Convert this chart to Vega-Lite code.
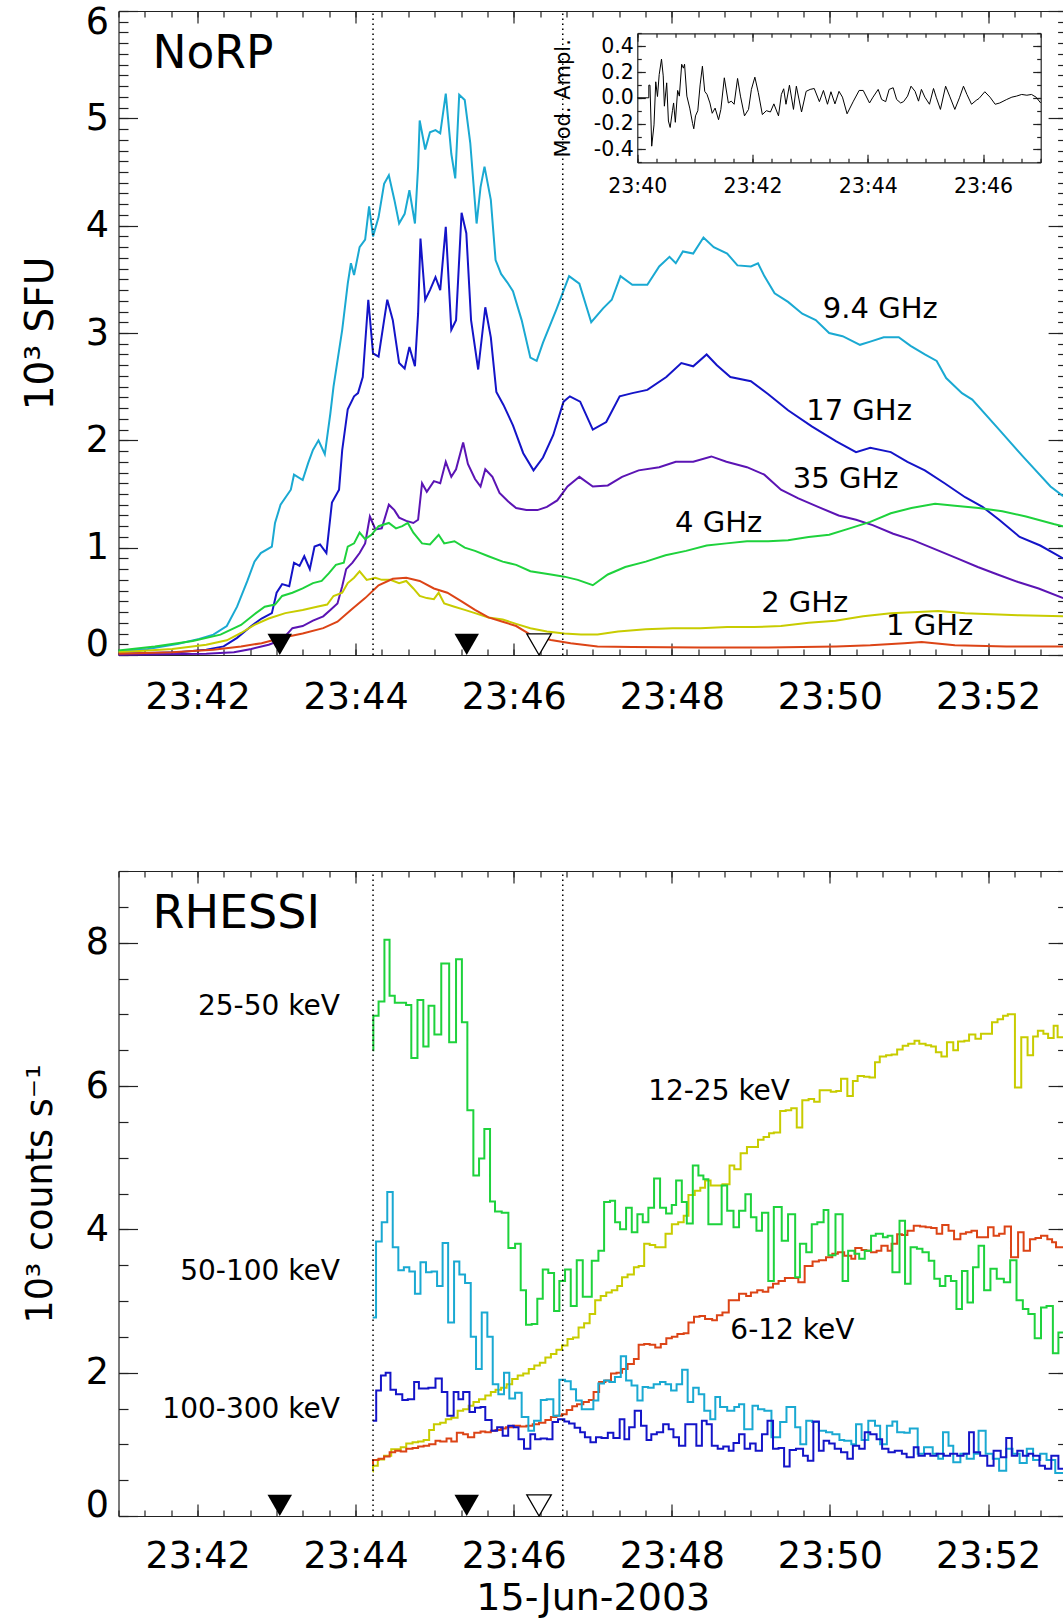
{
"$schema":"https://vega.github.io/schema/vega-lite/v6.json",
"autosize":{"type":"none"},
"width":944.5,"height":1505,
"padding":{"left":118.5,"top":11,"right":0,"bottom":103},
"background":"white",
"config":{"view":{"stroke":null},"axis":{"grid":false,"labelFont":"DejaVu Sans","titleFont":"DejaVu Sans","labelColor":"#000","titleColor":"#000","titleFontWeight":"normal","domainColor":"#222","tickColor":"#222","domainWidth":1.2,"tickWidth":1.2,"labelOverlap":false,"labelBound":false,"labelFlush":false},"text":{"font":"DejaVu Sans","color":"#000"}},
"datasets":{
"f94":[{"t":41.0,"v":0.034},{"t":41.37,"v":0.056},{"t":41.76,"v":0.105},{"t":42.02,"v":0.15},{"t":42.2,"v":0.19},{"t":42.37,"v":0.27},{"t":42.5,"v":0.45},{"t":42.63,"v":0.69},{"t":42.72,"v":0.87},{"t":42.8,"v":0.95},{"t":42.94,"v":1.01},{"t":42.98,"v":1.23},{"t":43.05,"v":1.4},{"t":43.18,"v":1.54},{"t":43.22,"v":1.68},{"t":43.33,"v":1.63},{"t":43.4,"v":1.79},{"t":43.46,"v":1.91},{"t":43.53,"v":2.0},{"t":43.61,"v":1.87},{"t":43.68,"v":2.25},{"t":43.72,"v":2.5},{"t":43.83,"v":3.03},{"t":43.9,"v":3.46},{"t":43.94,"v":3.65},{"t":43.98,"v":3.54},{"t":44.05,"v":3.8},{"t":44.12,"v":3.87},{"t":44.17,"v":4.18},{"t":44.22,"v":3.9},{"t":44.29,"v":4.08},{"t":44.36,"v":4.39},{"t":44.42,"v":4.47},{"t":44.49,"v":4.24},{"t":44.55,"v":4.02},{"t":44.62,"v":4.11},{"t":44.68,"v":4.33},{"t":44.75,"v":4.02},{"t":44.79,"v":4.55},{"t":44.81,"v":4.98},{"t":44.88,"v":4.71},{"t":44.94,"v":4.87},{"t":45.01,"v":4.89},{"t":45.07,"v":4.86},{"t":45.14,"v":5.23},{"t":45.21,"v":4.67},{"t":45.26,"v":4.44},{"t":45.31,"v":5.22},{"t":45.38,"v":5.17},{"t":45.45,"v":4.77},{"t":45.53,"v":4.02},{"t":45.58,"v":4.36},{"t":45.63,"v":4.55},{"t":45.71,"v":4.24},{"t":45.77,"v":3.68},{"t":45.84,"v":3.55},{"t":45.92,"v":3.47},{"t":45.99,"v":3.39},{"t":46.1,"v":3.12},{"t":46.21,"v":2.77},{"t":46.29,"v":2.74},{"t":46.37,"v":2.91},{"t":46.54,"v":3.22},{"t":46.7,"v":3.53},{"t":46.83,"v":3.46},{"t":46.98,"v":3.1},{"t":47.13,"v":3.23},{"t":47.24,"v":3.31},{"t":47.35,"v":3.53},{"t":47.5,"v":3.45},{"t":47.69,"v":3.45},{"t":47.84,"v":3.62},{"t":47.97,"v":3.71},{"t":48.05,"v":3.65},{"t":48.14,"v":3.76},{"t":48.27,"v":3.74},{"t":48.4,"v":3.89},{"t":48.53,"v":3.8},{"t":48.7,"v":3.74},{"t":48.83,"v":3.63},{"t":49.0,"v":3.62},{"t":49.09,"v":3.65},{"t":49.17,"v":3.53},{"t":49.3,"v":3.37},{"t":49.47,"v":3.29},{"t":49.65,"v":3.18},{"t":49.82,"v":3.12},{"t":49.99,"v":3.0},{"t":50.16,"v":2.97},{"t":50.38,"v":2.89},{"t":50.51,"v":2.92},{"t":50.68,"v":2.96},{"t":50.87,"v":2.96},{"t":51.02,"v":2.88},{"t":51.2,"v":2.8},{"t":51.35,"v":2.74},{"t":51.47,"v":2.58},{"t":51.67,"v":2.44},{"t":51.8,"v":2.38},{"t":52.14,"v":2.1},{"t":52.44,"v":1.85},{"t":52.79,"v":1.57},{"t":52.95,"v":1.48}],
"f17":[{"t":41.0,"v":0.012},{"t":41.76,"v":0.025},{"t":42.11,"v":0.05},{"t":42.33,"v":0.08},{"t":42.5,"v":0.16},{"t":42.68,"v":0.27},{"t":42.81,"v":0.34},{"t":42.94,"v":0.39},{"t":43.0,"v":0.58},{"t":43.07,"v":0.66},{"t":43.16,"v":0.64},{"t":43.22,"v":0.86},{"t":43.29,"v":0.83},{"t":43.35,"v":0.92},{"t":43.42,"v":0.8},{"t":43.48,"v":1.01},{"t":43.55,"v":1.03},{"t":43.63,"v":0.95},{"t":43.7,"v":1.42},{"t":43.79,"v":1.54},{"t":43.83,"v":1.91},{"t":43.9,"v":2.29},{"t":43.98,"v":2.41},{"t":44.03,"v":2.44},{"t":44.09,"v":2.59},{"t":44.16,"v":3.31},{"t":44.22,"v":2.81},{"t":44.29,"v":2.78},{"t":44.36,"v":3.12},{"t":44.4,"v":3.31},{"t":44.47,"v":3.12},{"t":44.55,"v":2.72},{"t":44.62,"v":2.67},{"t":44.68,"v":2.87},{"t":44.75,"v":2.69},{"t":44.79,"v":3.18},{"t":44.82,"v":3.88},{"t":44.88,"v":3.31},{"t":44.94,"v":3.4},{"t":45.01,"v":3.52},{"t":45.07,"v":3.4},{"t":45.14,"v":3.99},{"t":45.21,"v":3.03},{"t":45.27,"v":3.12},{"t":45.34,"v":4.12},{"t":45.4,"v":3.93},{"t":45.46,"v":3.12},{"t":45.55,"v":2.66},{"t":45.64,"v":3.24},{"t":45.71,"v":2.96},{"t":45.78,"v":2.45},{"t":45.87,"v":2.33},{"t":45.99,"v":2.14},{"t":46.12,"v":1.88},{"t":46.25,"v":1.72},{"t":46.37,"v":1.84},{"t":46.5,"v":2.05},{"t":46.63,"v":2.36},{"t":46.71,"v":2.41},{"t":46.84,"v":2.36},{"t":47.0,"v":2.1},{"t":47.17,"v":2.17},{"t":47.34,"v":2.41},{"t":47.5,"v":2.44},{"t":47.69,"v":2.47},{"t":47.93,"v":2.59},{"t":48.12,"v":2.72},{"t":48.27,"v":2.69},{"t":48.44,"v":2.8},{"t":48.57,"v":2.7},{"t":48.74,"v":2.59},{"t":49.0,"v":2.55},{"t":49.22,"v":2.43},{"t":49.47,"v":2.28},{"t":49.77,"v":2.13},{"t":50.08,"v":1.99},{"t":50.33,"v":1.89},{"t":50.51,"v":1.93},{"t":50.77,"v":1.89},{"t":50.98,"v":1.8},{"t":51.2,"v":1.72},{"t":51.45,"v":1.6},{"t":51.71,"v":1.47},{"t":51.93,"v":1.38},{"t":52.14,"v":1.26},{"t":52.4,"v":1.1},{"t":52.66,"v":1.02},{"t":52.95,"v":0.9}],
"f35":[{"t":41.0,"v":0.003},{"t":42.11,"v":0.012},{"t":42.46,"v":0.025},{"t":42.68,"v":0.056},{"t":42.9,"v":0.096},{"t":43.07,"v":0.143},{"t":43.2,"v":0.25},{"t":43.33,"v":0.27},{"t":43.46,"v":0.32},{"t":43.59,"v":0.36},{"t":43.68,"v":0.42},{"t":43.77,"v":0.48},{"t":43.83,"v":0.64},{"t":43.88,"v":0.8},{"t":43.96,"v":0.86},{"t":44.05,"v":0.95},{"t":44.12,"v":1.04},{"t":44.18,"v":1.29},{"t":44.25,"v":1.17},{"t":44.33,"v":1.18},{"t":44.42,"v":1.4},{"t":44.49,"v":1.35},{"t":44.55,"v":1.28},{"t":44.64,"v":1.25},{"t":44.73,"v":1.23},{"t":44.79,"v":1.26},{"t":44.84,"v":1.6},{"t":44.9,"v":1.52},{"t":44.99,"v":1.62},{"t":45.07,"v":1.6},{"t":45.14,"v":1.8},{"t":45.21,"v":1.66},{"t":45.27,"v":1.73},{"t":45.36,"v":1.98},{"t":45.42,"v":1.78},{"t":45.51,"v":1.64},{"t":45.58,"v":1.57},{"t":45.64,"v":1.73},{"t":45.73,"v":1.66},{"t":45.82,"v":1.51},{"t":45.93,"v":1.43},{"t":46.03,"v":1.37},{"t":46.16,"v":1.35},{"t":46.3,"v":1.35},{"t":46.42,"v":1.38},{"t":46.55,"v":1.44},{"t":46.68,"v":1.57},{"t":46.83,"v":1.66},{"t":47.0,"v":1.57},{"t":47.19,"v":1.58},{"t":47.37,"v":1.66},{"t":47.58,"v":1.72},{"t":47.84,"v":1.75},{"t":48.05,"v":1.8},{"t":48.27,"v":1.8},{"t":48.5,"v":1.85},{"t":48.69,"v":1.8},{"t":48.95,"v":1.75},{"t":49.17,"v":1.68},{"t":49.38,"v":1.54},{"t":49.6,"v":1.46},{"t":49.85,"v":1.38},{"t":50.11,"v":1.3},{"t":50.33,"v":1.26},{"t":50.54,"v":1.21},{"t":50.8,"v":1.13},{"t":51.05,"v":1.07},{"t":51.35,"v":0.98},{"t":51.61,"v":0.9},{"t":51.87,"v":0.82},{"t":52.12,"v":0.75},{"t":52.38,"v":0.68},{"t":52.64,"v":0.62},{"t":52.95,"v":0.53}],
"f4":[{"t":41.0,"v":0.043},{"t":41.46,"v":0.08},{"t":41.94,"v":0.13},{"t":42.29,"v":0.19},{"t":42.55,"v":0.28},{"t":42.72,"v":0.38},{"t":42.85,"v":0.45},{"t":42.98,"v":0.47},{"t":43.07,"v":0.55},{"t":43.2,"v":0.58},{"t":43.33,"v":0.62},{"t":43.46,"v":0.67},{"t":43.57,"v":0.69},{"t":43.66,"v":0.76},{"t":43.75,"v":0.84},{"t":43.85,"v":0.86},{"t":43.9,"v":1.01},{"t":43.98,"v":1.04},{"t":44.05,"v":1.14},{"t":44.12,"v":1.08},{"t":44.2,"v":1.12},{"t":44.29,"v":1.2},{"t":44.42,"v":1.23},{"t":44.51,"v":1.18},{"t":44.59,"v":1.2},{"t":44.66,"v":1.23},{"t":44.73,"v":1.14},{"t":44.84,"v":1.04},{"t":44.94,"v":1.03},{"t":45.05,"v":1.12},{"t":45.12,"v":1.04},{"t":45.25,"v":1.06},{"t":45.38,"v":1.0},{"t":45.51,"v":0.97},{"t":45.68,"v":0.92},{"t":45.86,"v":0.87},{"t":46.03,"v":0.84},{"t":46.21,"v":0.78},{"t":46.47,"v":0.75},{"t":46.64,"v":0.73},{"t":46.81,"v":0.7},{"t":47.0,"v":0.65},{"t":47.19,"v":0.75},{"t":47.41,"v":0.82},{"t":47.67,"v":0.87},{"t":47.92,"v":0.93},{"t":48.18,"v":0.97},{"t":48.44,"v":1.02},{"t":48.69,"v":1.04},{"t":48.95,"v":1.06},{"t":49.22,"v":1.06},{"t":49.47,"v":1.07},{"t":49.73,"v":1.1},{"t":49.99,"v":1.12},{"t":50.25,"v":1.18},{"t":50.51,"v":1.24},{"t":50.77,"v":1.32},{"t":51.03,"v":1.37},{"t":51.33,"v":1.41},{"t":51.58,"v":1.39},{"t":51.88,"v":1.37},{"t":52.18,"v":1.34},{"t":52.48,"v":1.29},{"t":52.83,"v":1.22},{"t":52.95,"v":1.2}],
"f2":[{"t":41.0,"v":0.025},{"t":41.68,"v":0.056},{"t":42.11,"v":0.096},{"t":42.37,"v":0.137},{"t":42.55,"v":0.205},{"t":42.72,"v":0.28},{"t":42.9,"v":0.34},{"t":43.11,"v":0.39},{"t":43.33,"v":0.42},{"t":43.51,"v":0.45},{"t":43.64,"v":0.47},{"t":43.72,"v":0.55},{"t":43.83,"v":0.58},{"t":43.9,"v":0.67},{"t":43.98,"v":0.72},{"t":44.05,"v":0.78},{"t":44.14,"v":0.7},{"t":44.25,"v":0.72},{"t":44.33,"v":0.7},{"t":44.44,"v":0.7},{"t":44.55,"v":0.67},{"t":44.64,"v":0.69},{"t":44.73,"v":0.62},{"t":44.81,"v":0.55},{"t":44.9,"v":0.53},{"t":44.99,"v":0.52},{"t":45.05,"v":0.58},{"t":45.12,"v":0.48},{"t":45.25,"v":0.45},{"t":45.38,"v":0.42},{"t":45.51,"v":0.39},{"t":45.68,"v":0.35},{"t":45.86,"v":0.33},{"t":46.03,"v":0.29},{"t":46.21,"v":0.25},{"t":46.42,"v":0.22},{"t":46.64,"v":0.2},{"t":46.85,"v":0.19},{"t":47.06,"v":0.19},{"t":47.32,"v":0.22},{"t":47.67,"v":0.24},{"t":48.01,"v":0.25},{"t":48.36,"v":0.25},{"t":48.7,"v":0.26},{"t":49.04,"v":0.26},{"t":49.38,"v":0.27},{"t":49.73,"v":0.3},{"t":50.07,"v":0.32},{"t":50.42,"v":0.36},{"t":50.77,"v":0.39},{"t":51.11,"v":0.4},{"t":51.37,"v":0.41},{"t":51.71,"v":0.39},{"t":52.05,"v":0.38},{"t":52.4,"v":0.37},{"t":52.95,"v":0.36}],
"f1":[{"t":41.0,"v":0.012},{"t":41.68,"v":0.025},{"t":42.2,"v":0.05},{"t":42.55,"v":0.08},{"t":42.81,"v":0.11},{"t":43.07,"v":0.16},{"t":43.33,"v":0.2},{"t":43.59,"v":0.25},{"t":43.77,"v":0.31},{"t":43.94,"v":0.42},{"t":44.12,"v":0.53},{"t":44.29,"v":0.65},{"t":44.47,"v":0.71},{"t":44.64,"v":0.72},{"t":44.81,"v":0.69},{"t":44.99,"v":0.62},{"t":45.16,"v":0.58},{"t":45.34,"v":0.5},{"t":45.51,"v":0.42},{"t":45.68,"v":0.35},{"t":45.86,"v":0.31},{"t":46.03,"v":0.27},{"t":46.21,"v":0.19},{"t":46.47,"v":0.14},{"t":46.72,"v":0.11},{"t":47.06,"v":0.08},{"t":47.5,"v":0.075},{"t":48.36,"v":0.07},{"t":49.22,"v":0.07},{"t":50.08,"v":0.08},{"t":50.51,"v":0.09},{"t":50.94,"v":0.11},{"t":51.16,"v":0.12},{"t":51.58,"v":0.09},{"t":52.23,"v":0.08},{"t":52.95,"v":0.08}],
"h25":[{"t":44.216,"v":6.5},{"t":44.224,"v":6.98},{"t":44.29,"v":7.18},{"t":44.364,"v":8.04},{"t":44.429,"v":7.26},{"t":44.495,"v":7.16},{"t":44.573,"v":7.16},{"t":44.638,"v":7.13},{"t":44.704,"v":6.39},{"t":44.782,"v":7.2},{"t":44.856,"v":6.55},{"t":44.922,"v":7.12},{"t":44.996,"v":6.72},{"t":45.083,"v":7.71},{"t":45.183,"v":6.61},{"t":45.27,"v":7.77},{"t":45.344,"v":6.89},{"t":45.413,"v":5.66},{"t":45.489,"v":4.75},{"t":45.561,"v":4.99},{"t":45.628,"v":5.4},{"t":45.7,"v":4.39},{"t":45.763,"v":4.25},{"t":45.848,"v":4.23},{"t":45.932,"v":3.74},{"t":46.017,"v":3.8},{"t":46.088,"v":3.15},{"t":46.155,"v":2.67},{"t":46.227,"v":2.68},{"t":46.298,"v":3.03},{"t":46.367,"v":3.44},{"t":46.437,"v":3.39},{"t":46.51,"v":2.86},{"t":46.577,"v":3.28},{"t":46.649,"v":3.44},{"t":46.721,"v":2.93},{"t":46.797,"v":3.57},{"t":46.873,"v":3.06},{"t":46.987,"v":3.56},{"t":47.071,"v":3.7},{"t":47.143,"v":4.38},{"t":47.218,"v":4.4},{"t":47.282,"v":4.1},{"t":47.345,"v":4.0},{"t":47.421,"v":4.3},{"t":47.493,"v":3.96},{"t":47.564,"v":4.21},{"t":47.632,"v":4.1},{"t":47.703,"v":4.3},{"t":47.775,"v":4.71},{"t":47.851,"v":4.3},{"t":47.927,"v":4.22},{"t":47.999,"v":4.34},{"t":48.054,"v":4.68},{"t":48.126,"v":4.38},{"t":48.189,"v":4.08},{"t":48.265,"v":4.89},{"t":48.336,"v":4.75},{"t":48.399,"v":4.7},{"t":48.462,"v":4.07},{"t":48.63,"v":4.61},{"t":48.7,"v":4.26},{"t":48.78,"v":4.03},{"t":48.85,"v":4.26},{"t":48.93,"v":4.49},{"t":49.0,"v":4.17},{"t":49.07,"v":3.98},{"t":49.14,"v":4.23},{"t":49.22,"v":3.28},{"t":49.29,"v":4.31},{"t":49.39,"v":3.84},{"t":49.47,"v":4.21},{"t":49.56,"v":3.33},{"t":49.62,"v":3.8},{"t":49.7,"v":3.68},{"t":49.77,"v":4.07},{"t":49.84,"v":4.1},{"t":49.92,"v":4.27},{"t":49.98,"v":3.64},{"t":50.07,"v":4.21},{"t":50.16,"v":3.28},{"t":50.23,"v":3.7},{"t":50.31,"v":3.66},{"t":50.37,"v":3.59},{"t":50.44,"v":3.7},{"t":50.52,"v":3.91},{"t":50.58,"v":3.94},{"t":50.67,"v":3.89},{"t":50.73,"v":3.91},{"t":50.79,"v":3.4},{"t":50.88,"v":4.12},{"t":50.95,"v":3.24},{"t":51.02,"v":3.75},{"t":51.1,"v":3.73},{"t":51.17,"v":3.68},{"t":51.25,"v":3.56},{"t":51.32,"v":3.31},{"t":51.39,"v":3.21},{"t":51.46,"v":3.35},{"t":51.53,"v":3.28},{"t":51.6,"v":2.89},{"t":51.67,"v":3.42},{"t":51.74,"v":2.98},{"t":51.81,"v":3.47},{"t":51.88,"v":3.77},{"t":51.95,"v":3.15},{"t":52.03,"v":3.45},{"t":52.11,"v":3.31},{"t":52.2,"v":3.26},{"t":52.28,"v":3.57},{"t":52.36,"v":3.01},{"t":52.44,"v":2.89},{"t":52.51,"v":2.82},{"t":52.59,"v":2.48},{"t":52.67,"v":2.91},{"t":52.74,"v":2.93},{"t":52.82,"v":2.27},{"t":52.89,"v":2.56},{"t":52.96,"v":2.56}],
"h50":[{"t":44.216,"v":2.77},{"t":44.258,"v":3.83},{"t":44.33,"v":4.1},{"t":44.4,"v":4.52},{"t":44.469,"v":3.75},{"t":44.54,"v":3.43},{"t":44.61,"v":3.47},{"t":44.679,"v":3.41},{"t":44.75,"v":3.1},{"t":44.82,"v":3.54},{"t":44.89,"v":3.4},{"t":44.96,"v":3.41},{"t":45.03,"v":3.21},{"t":45.1,"v":3.81},{"t":45.17,"v":2.7},{"t":45.245,"v":3.55},{"t":45.312,"v":3.37},{"t":45.384,"v":3.25},{"t":45.456,"v":2.5},{"t":45.523,"v":2.05},{"t":45.595,"v":2.84},{"t":45.666,"v":2.5},{"t":45.734,"v":1.84},{"t":45.805,"v":1.7},{"t":45.877,"v":2.0},{"t":45.944,"v":1.64},{"t":46.017,"v":1.72},{"t":46.1,"v":1.38},{"t":46.185,"v":1.19},{"t":46.257,"v":1.33},{"t":46.342,"v":1.62},{"t":46.417,"v":1.63},{"t":46.501,"v":1.4},{"t":46.577,"v":1.9},{"t":46.649,"v":1.88},{"t":46.721,"v":1.77},{"t":46.788,"v":1.61},{"t":46.86,"v":1.49},{"t":46.931,"v":1.49},{"t":47.007,"v":1.61},{"t":47.07,"v":1.85},{"t":47.142,"v":1.89},{"t":47.21,"v":1.87},{"t":47.28,"v":1.94},{"t":47.354,"v":2.23},{"t":47.421,"v":1.89},{"t":47.49,"v":1.82},{"t":47.564,"v":1.61},{"t":47.63,"v":1.8},{"t":47.7,"v":1.79},{"t":47.77,"v":1.84},{"t":47.85,"v":1.87},{"t":47.92,"v":1.84},{"t":47.99,"v":1.75},{"t":48.06,"v":1.84},{"t":48.13,"v":2.04},{"t":48.2,"v":1.59},{"t":48.27,"v":1.79},{"t":48.34,"v":1.7},{"t":48.41,"v":1.47},{"t":48.486,"v":1.35},{"t":48.55,"v":1.66},{"t":48.61,"v":1.52},{"t":48.7,"v":1.47},{"t":48.79,"v":1.52},{"t":48.85,"v":1.56},{"t":48.915,"v":1.21},{"t":49.02,"v":1.54},{"t":49.09,"v":1.49},{"t":49.17,"v":1.47},{"t":49.26,"v":1.1},{"t":49.37,"v":1.31},{"t":49.45,"v":1.52},{"t":49.56,"v":1.24},{"t":49.625,"v":1.0},{"t":49.7,"v":1.33},{"t":49.775,"v":1.31},{"t":49.86,"v":1.19},{"t":49.95,"v":1.17},{"t":50.03,"v":1.14},{"t":50.12,"v":1.06},{"t":50.18,"v":1.05},{"t":50.27,"v":1.0},{"t":50.33,"v":1.28},{"t":50.4,"v":1.06},{"t":50.485,"v":1.33},{"t":50.57,"v":1.26},{"t":50.635,"v":1.0},{"t":50.72,"v":1.26},{"t":50.79,"v":1.32},{"t":50.85,"v":1.17},{"t":50.94,"v":1.16},{"t":51.01,"v":1.22},{"t":51.11,"v":0.87},{"t":51.19,"v":0.96},{"t":51.3,"v":0.87},{"t":51.37,"v":0.8},{"t":51.43,"v":1.17},{"t":51.5,"v":0.98},{"t":51.56,"v":0.75},{"t":51.65,"v":0.87},{"t":51.73,"v":0.8},{"t":51.82,"v":0.87},{"t":51.88,"v":1.19},{"t":51.97,"v":0.87},{"t":52.06,"v":0.8},{"t":52.14,"v":0.63},{"t":52.23,"v":0.94},{"t":52.31,"v":0.87},{"t":52.4,"v":0.74},{"t":52.49,"v":0.94},{"t":52.57,"v":0.78},{"t":52.66,"v":0.87},{"t":52.74,"v":0.78},{"t":52.85,"v":0.6},{"t":52.96,"v":0.6}],
"h100":[{"t":44.216,"v":1.33},{"t":44.26,"v":1.75},{"t":44.32,"v":1.96},{"t":44.38,"v":2.0},{"t":44.44,"v":1.76},{"t":44.51,"v":1.7},{"t":44.59,"v":1.62},{"t":44.66,"v":1.63},{"t":44.74,"v":1.87},{"t":44.8,"v":1.78},{"t":44.92,"v":1.79},{"t":45.01,"v":1.92},{"t":45.09,"v":1.73},{"t":45.16,"v":1.4},{"t":45.24,"v":1.73},{"t":45.3,"v":1.63},{"t":45.36,"v":1.73},{"t":45.44,"v":1.45},{"t":45.51,"v":1.51},{"t":45.58,"v":1.52},{"t":45.64,"v":1.34},{"t":45.72,"v":1.19},{"t":45.79,"v":1.24},{"t":45.86,"v":1.12},{"t":45.93,"v":1.26},{"t":46.0,"v":1.24},{"t":46.06,"v":1.07},{"t":46.13,"v":0.94},{"t":46.21,"v":1.14},{"t":46.27,"v":1.07},{"t":46.34,"v":1.08},{"t":46.42,"v":1.07},{"t":46.49,"v":1.31},{"t":46.56,"v":1.35},{"t":46.64,"v":1.32},{"t":46.7,"v":1.29},{"t":46.77,"v":1.23},{"t":46.84,"v":1.17},{"t":46.9,"v":1.1},{"t":46.97,"v":1.03},{"t":47.04,"v":1.1},{"t":47.11,"v":1.09},{"t":47.19,"v":1.16},{"t":47.26,"v":1.09},{"t":47.34,"v":1.35},{"t":47.4,"v":1.07},{"t":47.46,"v":1.24},{"t":47.53,"v":1.47},{"t":47.61,"v":1.26},{"t":47.68,"v":1.06},{"t":47.74,"v":1.14},{"t":47.81,"v":1.17},{"t":47.89,"v":1.28},{"t":47.96,"v":1.21},{"t":48.02,"v":1.1},{"t":48.09,"v":0.98},{"t":48.17,"v":1.28},{"t":48.24,"v":1.28},{"t":48.31,"v":0.98},{"t":48.38,"v":1.33},{"t":48.44,"v":1.28},{"t":48.505,"v":0.98},{"t":48.58,"v":0.94},{"t":48.65,"v":0.97},{"t":48.72,"v":0.91},{"t":48.78,"v":1.02},{"t":48.85,"v":1.14},{"t":48.92,"v":0.94},{"t":48.99,"v":1.01},{"t":49.06,"v":0.91},{"t":49.14,"v":1.14},{"t":49.21,"v":1.33},{"t":49.28,"v":0.94},{"t":49.35,"v":0.95},{"t":49.42,"v":0.69},{"t":49.49,"v":0.92},{"t":49.57,"v":0.94},{"t":49.66,"v":0.84},{"t":49.72,"v":0.77},{"t":49.79,"v":1.32},{"t":49.86,"v":0.91},{"t":49.92,"v":1.05},{"t":49.99,"v":1.01},{"t":50.06,"v":0.94},{"t":50.14,"v":0.89},{"t":50.22,"v":0.8},{"t":50.29,"v":0.98},{"t":50.37,"v":0.94},{"t":50.44,"v":1.17},{"t":50.51,"v":1.14},{"t":50.59,"v":1.07},{"t":50.66,"v":0.94},{"t":50.74,"v":0.89},{"t":50.82,"v":0.91},{"t":50.91,"v":0.87},{"t":50.97,"v":0.82},{"t":51.06,"v":0.96},{"t":51.12,"v":0.84},{"t":51.2,"v":0.87},{"t":51.27,"v":0.84},{"t":51.35,"v":0.87},{"t":51.44,"v":0.84},{"t":51.52,"v":0.87},{"t":51.61,"v":0.84},{"t":51.69,"v":0.87},{"t":51.76,"v":1.17},{"t":51.82,"v":0.89},{"t":51.9,"v":0.84},{"t":51.99,"v":0.7},{"t":52.07,"v":0.91},{"t":52.16,"v":0.82},{"t":52.23,"v":1.09},{"t":52.3,"v":0.84},{"t":52.37,"v":0.91},{"t":52.44,"v":0.84},{"t":52.51,"v":0.87},{"t":52.57,"v":0.84},{"t":52.65,"v":0.7},{"t":52.72,"v":0.66},{"t":52.8,"v":0.84},{"t":52.89,"v":0.66},{"t":52.96,"v":0.66}],
"h12":[{"t":44.216,"v":0.62},{"t":44.22,"v":0.7},{"t":44.28,"v":0.79},{"t":44.36,"v":0.84},{"t":44.45,"v":0.93},{"t":44.57,"v":0.96},{"t":44.64,"v":1.01},{"t":44.72,"v":1.03},{"t":44.79,"v":1.04},{"t":44.86,"v":1.06},{"t":44.93,"v":1.2},{"t":44.99,"v":1.28},{"t":45.07,"v":1.3},{"t":45.14,"v":1.35},{"t":45.21,"v":1.37},{"t":45.29,"v":1.47},{"t":45.36,"v":1.49},{"t":45.43,"v":1.54},{"t":45.49,"v":1.59},{"t":45.56,"v":1.63},{"t":45.64,"v":1.68},{"t":45.71,"v":1.73},{"t":45.77,"v":1.76},{"t":45.84,"v":1.79},{"t":45.91,"v":1.84},{"t":45.98,"v":1.91},{"t":46.05,"v":1.96},{"t":46.12,"v":1.99},{"t":46.19,"v":2.05},{"t":46.26,"v":2.1},{"t":46.33,"v":2.14},{"t":46.4,"v":2.21},{"t":46.47,"v":2.26},{"t":46.54,"v":2.32},{"t":46.61,"v":2.38},{"t":46.68,"v":2.47},{"t":46.75,"v":2.49},{"t":46.82,"v":2.63},{"t":46.89,"v":2.69},{"t":46.96,"v":2.82},{"t":47.03,"v":3.01},{"t":47.1,"v":3.07},{"t":47.17,"v":3.12},{"t":47.24,"v":3.15},{"t":47.31,"v":3.21},{"t":47.37,"v":3.33},{"t":47.44,"v":3.37},{"t":47.52,"v":3.47},{"t":47.58,"v":3.49},{"t":47.65,"v":3.8},{"t":47.72,"v":3.78},{"t":47.79,"v":3.75},{"t":47.92,"v":3.94},{"t":48.0,"v":4.07},{"t":48.08,"v":4.1},{"t":48.15,"v":4.19},{"t":48.21,"v":4.48},{"t":48.29,"v":4.54},{"t":48.36,"v":4.58},{"t":48.42,"v":4.68},{"t":48.49,"v":4.61},{"t":48.64,"v":4.63},{"t":48.73,"v":4.89},{"t":48.79,"v":4.84},{"t":48.87,"v":5.06},{"t":48.95,"v":5.15},{"t":49.09,"v":5.25},{"t":49.16,"v":5.29},{"t":49.23,"v":5.34},{"t":49.29,"v":5.35},{"t":49.37,"v":5.65},{"t":49.44,"v":5.66},{"t":49.51,"v":5.69},{"t":49.58,"v":5.42},{"t":49.65,"v":5.8},{"t":49.73,"v":5.82},{"t":49.8,"v":5.78},{"t":49.87,"v":5.94},{"t":50.01,"v":5.92},{"t":50.08,"v":5.93},{"t":50.14,"v":6.1},{"t":50.22,"v":5.86},{"t":50.29,"v":6.07},{"t":50.35,"v":6.14},{"t":50.43,"v":6.13},{"t":50.5,"v":6.12},{"t":50.57,"v":6.33},{"t":50.63,"v":6.41},{"t":50.71,"v":6.43},{"t":50.78,"v":6.44},{"t":50.85,"v":6.51},{"t":50.92,"v":6.56},{"t":50.99,"v":6.59},{"t":51.07,"v":6.63},{"t":51.13,"v":6.59},{"t":51.21,"v":6.57},{"t":51.28,"v":6.55},{"t":51.34,"v":6.47},{"t":51.41,"v":6.41},{"t":51.48,"v":6.61},{"t":51.56,"v":6.5},{"t":51.62,"v":6.62},{"t":51.7,"v":6.63},{"t":51.76,"v":6.72},{"t":51.84,"v":6.66},{"t":51.91,"v":6.73},{"t":52.05,"v":6.89},{"t":52.12,"v":6.93},{"t":52.19,"v":6.98},{"t":52.25,"v":7.0},{"t":52.34,"v":5.98},{"t":52.42,"v":6.68},{"t":52.5,"v":6.43},{"t":52.57,"v":6.69},{"t":52.63,"v":6.77},{"t":52.7,"v":6.73},{"t":52.76,"v":6.67},{"t":52.83,"v":6.84},{"t":52.88,"v":6.68},{"t":52.96,"v":6.68}],
"h6":[{"t":44.216,"v":0.72},{"t":44.22,"v":0.78},{"t":44.29,"v":0.8},{"t":44.36,"v":0.83},{"t":44.43,"v":0.89},{"t":44.5,"v":0.91},{"t":44.57,"v":0.9},{"t":44.64,"v":0.94},{"t":44.72,"v":0.95},{"t":44.79,"v":0.97},{"t":44.86,"v":0.98},{"t":44.93,"v":1.0},{"t":45.01,"v":1.05},{"t":45.07,"v":1.04},{"t":45.15,"v":1.08},{"t":45.21,"v":1.04},{"t":45.28,"v":1.16},{"t":45.36,"v":1.14},{"t":45.42,"v":1.1},{"t":45.5,"v":1.16},{"t":45.58,"v":1.18},{"t":45.64,"v":1.17},{"t":45.71,"v":1.19},{"t":45.77,"v":1.2},{"t":45.84,"v":1.22},{"t":45.9,"v":1.24},{"t":45.99,"v":1.26},{"t":46.08,"v":1.25},{"t":46.16,"v":1.26},{"t":46.24,"v":1.28},{"t":46.32,"v":1.3},{"t":46.4,"v":1.34},{"t":46.47,"v":1.38},{"t":46.54,"v":1.4},{"t":46.61,"v":1.42},{"t":46.67,"v":1.48},{"t":46.74,"v":1.53},{"t":46.8,"v":1.56},{"t":46.88,"v":1.59},{"t":46.95,"v":1.62},{"t":47.01,"v":1.73},{"t":47.08,"v":1.87},{"t":47.16,"v":1.89},{"t":47.23,"v":1.99},{"t":47.3,"v":2.0},{"t":47.37,"v":2.05},{"t":47.44,"v":2.12},{"t":47.52,"v":2.19},{"t":47.58,"v":2.39},{"t":47.65,"v":2.4},{"t":47.72,"v":2.39},{"t":47.79,"v":2.35},{"t":47.86,"v":2.4},{"t":47.93,"v":2.48},{"t":48.0,"v":2.5},{"t":48.07,"v":2.54},{"t":48.15,"v":2.55},{"t":48.21,"v":2.7},{"t":48.28,"v":2.78},{"t":48.35,"v":2.79},{"t":48.42,"v":2.75},{"t":48.51,"v":2.73},{"t":48.57,"v":2.8},{"t":48.64,"v":2.84},{"t":48.72,"v":3.01},{"t":48.85,"v":3.1},{"t":48.94,"v":3.07},{"t":49.0,"v":3.12},{"t":49.08,"v":3.15},{"t":49.15,"v":3.13},{"t":49.22,"v":3.19},{"t":49.28,"v":3.24},{"t":49.35,"v":3.28},{"t":49.43,"v":3.32},{"t":49.6,"v":3.26},{"t":49.68,"v":3.49},{"t":49.78,"v":3.55},{"t":49.86,"v":3.57},{"t":49.95,"v":3.61},{"t":50.03,"v":3.66},{"t":50.1,"v":3.68},{"t":50.18,"v":3.63},{"t":50.27,"v":3.59},{"t":50.32,"v":3.74},{"t":50.4,"v":3.71},{"t":50.46,"v":3.7},{"t":50.52,"v":3.68},{"t":50.59,"v":3.7},{"t":50.65,"v":3.77},{"t":50.73,"v":3.7},{"t":50.78,"v":3.8},{"t":50.85,"v":3.93},{"t":50.91,"v":3.92},{"t":50.98,"v":3.98},{"t":51.06,"v":4.05},{"t":51.14,"v":4.04},{"t":51.21,"v":4.03},{"t":51.28,"v":4.02},{"t":51.35,"v":3.94},{"t":51.42,"v":4.06},{"t":51.5,"v":3.98},{"t":51.57,"v":3.86},{"t":51.65,"v":3.94},{"t":51.72,"v":3.96},{"t":51.79,"v":3.98},{"t":51.86,"v":3.89},{"t":52.0,"v":4.03},{"t":52.07,"v":3.91},{"t":52.14,"v":3.94},{"t":52.21,"v":4.04},{"t":52.29,"v":3.61},{"t":52.38,"v":3.96},{"t":52.45,"v":3.7},{"t":52.53,"v":3.86},{"t":52.6,"v":3.88},{"t":52.67,"v":3.91},{"t":52.75,"v":3.86},{"t":52.81,"v":3.82},{"t":52.86,"v":3.75},{"t":52.96,"v":3.75}],
"mod":[{"t":40.0,"v":0},{"t":40.2,"v":0},{"t":40.2,"v":0.098},{"t":40.22,"v":0.098},{"t":40.25,"v":-0.375},{"t":40.29,"v":-0.21},{"t":40.32,"v":0.124},{"t":40.35,"v":0.01},{"t":40.38,"v":0.18},{"t":40.42,"v":0.3},{"t":40.45,"v":0.17},{"t":40.47,"v":-0.065},{"t":40.51,"v":0.116},{"t":40.54,"v":-0.18},{"t":40.57,"v":-0.23},{"t":40.61,"v":-0.1},{"t":40.63,"v":-0.04},{"t":40.66,"v":-0.19},{"t":40.7,"v":0.057},{"t":40.73,"v":0.013},{"t":40.77,"v":0.26},{"t":40.8,"v":0.23},{"t":40.82,"v":0.26},{"t":40.86,"v":0.013},{"t":40.91,"v":-0.08},{"t":40.96,"v":-0.2},{"t":40.98,"v":-0.24},{"t":41.01,"v":-0.14},{"t":41.05,"v":-0.1},{"t":41.09,"v":0.1},{"t":41.13,"v":0.245},{"t":41.17,"v":0.05},{"t":41.21,"v":0.026},{"t":41.26,"v":-0.04},{"t":41.3,"v":-0.12},{"t":41.35,"v":-0.08},{"t":41.41,"v":-0.17},{"t":41.45,"v":-0.09},{"t":41.51,"v":0.155},{"t":41.58,"v":-0.04},{"t":41.63,"v":-0.026},{"t":41.68,"v":-0.05},{"t":41.74,"v":0.15},{"t":41.79,"v":0.013},{"t":41.86,"v":-0.14},{"t":41.93,"v":-0.09},{"t":41.98,"v":0.065},{"t":42.04,"v":0.16},{"t":42.1,"v":0.04},{"t":42.17,"v":-0.13},{"t":42.24,"v":-0.1},{"t":42.31,"v":-0.11},{"t":42.37,"v":-0.047},{"t":42.45,"v":-0.14},{"t":42.5,"v":0.026},{"t":42.54,"v":0.07},{"t":42.58,"v":-0.05},{"t":42.64,"v":0.098},{"t":42.71,"v":-0.09},{"t":42.76,"v":0.09},{"t":42.85,"v":-0.11},{"t":42.93,"v":0.05},{"t":43.0,"v":0.065},{"t":43.07,"v":0.072},{"t":43.16,"v":-0.03},{"t":43.23,"v":0.057},{"t":43.3,"v":-0.05},{"t":43.36,"v":0.047},{"t":43.43,"v":-0.047},{"t":43.5,"v":0.05},{"t":43.56,"v":0.005},{"t":43.64,"v":-0.124},{"t":43.75,"v":-0.026},{"t":43.85,"v":0.057},{"t":43.92,"v":0.057},{"t":44.03,"v":-0.04},{"t":44.09,"v":0.005},{"t":44.18,"v":0.065},{"t":44.24,"v":-0.013},{"t":44.31,"v":-0.03},{"t":44.37,"v":0.065},{"t":44.44,"v":0.078},{"t":44.5,"v":-0.013},{"t":44.57,"v":-0.04},{"t":44.62,"v":-0.03},{"t":44.69,"v":0.013},{"t":44.75,"v":0.09},{"t":44.82,"v":0.05},{"t":44.88,"v":-0.026},{"t":44.93,"v":0.065},{"t":44.99,"v":0.005},{"t":45.07,"v":-0.05},{"t":45.14,"v":0.072},{"t":45.19,"v":0},{"t":45.26,"v":-0.09},{"t":45.35,"v":0.09},{"t":45.42,"v":0.013},{"t":45.51,"v":-0.09},{"t":45.59,"v":0},{"t":45.66,"v":0.09},{"t":45.72,"v":0.026},{"t":45.8,"v":-0.05},{"t":45.88,"v":-0.02},{"t":45.93,"v":-0.005},{"t":46.03,"v":0.047},{"t":46.12,"v":0.005},{"t":46.21,"v":-0.05},{"t":46.29,"v":-0.04},{"t":46.41,"v":-0.013},{"t":46.5,"v":0.005},{"t":46.58,"v":0.013},{"t":46.67,"v":0.026},{"t":46.76,"v":0.02},{"t":46.84,"v":0.026},{"t":46.92,"v":0.005},{"t":47.0,"v":-0.04}]
},
"resolve":{"scale":{"x":"independent","y":"independent"},"axis":{"x":"independent","y":"independent"}},
"layer":[
{"data":{"name":"f94"},"mark":{"type":"line","color":"#1aa9d2","strokeWidth":2},
 "encoding":{
  "x":{"field":"t","type":"quantitative","scale":{"domain":[41,53],"range":[0,948.6],"nice":false,"zero":false},
   "axis":{"orient":"bottom","offset":-861,"values":[42,44,46,48,50,52],"labelExpr":"'23:'+datum.value","tickSize":-12,"labelPadding":36.5,"labelFontSize":36.5,"domain":true,"title":null}},
  "y":{"field":"v","type":"quantitative","scale":{"domain":[0,6],"range":[644,0],"nice":false,"zero":false},
   "axis":{"orient":"left","offset":0,"values":[0,1,2,3,4,5,6],"tickSize":-19,"labelPadding":29,"labelFontSize":36.5,"domain":true,
    "labelBaseline":{"condition":[{"test":"datum.value==0","value":"alphabetic"},{"test":"datum.value==6","value":"top"}],"value":"middle"},
    "labelOffset":{"condition":{"test":"datum.value==6","value":-7},"value":0},
    "title":"10³ SFU","titleFontSize":39,"titleAngle":-90,"titleX":-66.5,"titleY":322,"titleAlign":"center","titleBaseline":"alphabetic"}}}},
{"data":{"name":"f17"},"mark":{"type":"line","color":"#1414c8","strokeWidth":2},
 "encoding":{
  "x":{"field":"t","type":"quantitative","scale":{"domain":[41,53],"range":[0,948.6],"nice":false,"zero":false},
   "axis":{"orient":"bottom","offset":-861,"values":[41,41.3333,41.6667,42,42.3333,42.6667,43,43.3333,43.6667,44,44.3333,44.6667,45,45.3333,45.6667,46,46.3333,46.6667,47,47.3333,47.6667,48,48.3333,48.6667,49,49.3333,49.6667,50,50.3333,50.6667,51,51.3333,51.6667,52,52.3333,52.6667,53],"labels":false,"domain":false,"tickSize":-6,"title":null}},
  "y":{"field":"v","type":"quantitative","scale":{"domain":[0,6],"range":[644,0],"nice":false,"zero":false},
   "axis":{"orient":"left","offset":0,"values":[0,0.1,0.2,0.3,0.4,0.5,0.6,0.7,0.8,0.9,1,1.1,1.2,1.3,1.4,1.5,1.6,1.7,1.8,1.9,2,2.1,2.2,2.3,2.4,2.5,2.6,2.7,2.8,2.9,3,3.1,3.2,3.3,3.4,3.5,3.6,3.7,3.8,3.9,4,4.1,4.2,4.3,4.4,4.5,4.6,4.7,4.8,4.9,5,5.1,5.2,5.3,5.4,5.5,5.6,5.7,5.8,5.9,6],"labels":false,"domain":false,"tickSize":-9.5,"title":null}}}},
{"data":{"name":"f35"},"mark":{"type":"line","color":"#5b14b4","strokeWidth":2},
 "encoding":{
  "x":{"field":"t","type":"quantitative","scale":{"domain":[41,53],"range":[0,948.6],"nice":false,"zero":false},
   "axis":{"orient":"top","offset":0,"values":[42,44,46,48,50,52],"labels":false,"domain":true,"tickSize":-12,"title":null}},
  "y":{"field":"v","type":"quantitative","scale":{"domain":[0,6],"range":[644,0],"nice":false,"zero":false},
   "axis":{"orient":"right","offset":4.1,"values":[0,1,2,3,4,5,6],"labels":false,"domain":true,"tickSize":-19,"title":null}}}},
{"data":{"name":"f4"},"mark":{"type":"line","color":"#1ed23c","strokeWidth":2},
 "encoding":{
  "x":{"field":"t","type":"quantitative","scale":{"domain":[41,53],"range":[0,948.6],"nice":false,"zero":false},
   "axis":{"orient":"top","offset":0,"values":[41,41.3333,41.6667,42,42.3333,42.6667,43,43.3333,43.6667,44,44.3333,44.6667,45,45.3333,45.6667,46,46.3333,46.6667,47,47.3333,47.6667,48,48.3333,48.6667,49,49.3333,49.6667,50,50.3333,50.6667,51,51.3333,51.6667,52,52.3333,52.6667,53],"labels":false,"domain":false,"tickSize":-6,"title":null}},
  "y":{"field":"v","type":"quantitative","scale":{"domain":[0,6],"range":[644,0],"nice":false,"zero":false},
   "axis":{"orient":"right","offset":4.1,"values":[0,0.1,0.2,0.3,0.4,0.5,0.6,0.7,0.8,0.9,1,1.1,1.2,1.3,1.4,1.5,1.6,1.7,1.8,1.9,2,2.1,2.2,2.3,2.4,2.5,2.6,2.7,2.8,2.9,3,3.1,3.2,3.3,3.4,3.5,3.6,3.7,3.8,3.9,4,4.1,4.2,4.3,4.4,4.5,4.6,4.7,4.8,4.9,5,5.1,5.2,5.3,5.4,5.5,5.6,5.7,5.8,5.9,6],"labels":false,"domain":false,"tickSize":-9.5,"title":null}}}},
{"data":{"name":"f2"},"mark":{"type":"line","color":"#c8cc00","strokeWidth":2},
 "encoding":{
  "x":{"field":"t","type":"quantitative","scale":{"domain":[41,53],"range":[0,948.6],"nice":false,"zero":false},"axis":null},
  "y":{"field":"v","type":"quantitative","scale":{"domain":[0,6],"range":[644,0],"nice":false,"zero":false},"axis":null}}},
{"data":{"name":"f1"},"mark":{"type":"line","color":"#dc4416","strokeWidth":2},
 "encoding":{
  "x":{"field":"t","type":"quantitative","scale":{"domain":[41,53],"range":[0,948.6],"nice":false,"zero":false},"axis":null},
  "y":{"field":"v","type":"quantitative","scale":{"domain":[0,6],"range":[644,0],"nice":false,"zero":false},"axis":null}}},
{"data":{"values":[{"t":44.22},{"t":46.62}]},"mark":{"type":"rule","color":"#000","strokeWidth":1.5,"strokeDash":[1.5,3.5]},
 "encoding":{
  "x":{"field":"t","type":"quantitative","scale":{"domain":[41,53],"range":[0,948.6],"nice":false,"zero":false},"axis":null},
  "y":{"datum":0,"type":"quantitative","scale":{"domain":[0,6],"range":[644,0],"nice":false,"zero":false},"axis":null},
  "y2":{"datum":6}}},
{"data":{"values":[{"t":43.04},{"t":45.405}]},"mark":{"type":"point","shape":"triangle-down","size":600,"filled":true,"color":"#000","opacity":1,"yOffset":-10.6},
 "encoding":{
  "x":{"field":"t","type":"quantitative","scale":{"domain":[41,53],"range":[0,948.6],"nice":false,"zero":false},"axis":null},
  "y":{"datum":0,"type":"quantitative","scale":{"domain":[0,6],"range":[644,0],"nice":false,"zero":false},"axis":null}}},
{"data":{"values":[{"t":46.32}]},"mark":{"type":"point","shape":"triangle-down","size":600,"filled":false,"fill":"#fff","fillOpacity":1,"stroke":"#000","strokeWidth":1.3,"opacity":1,"yOffset":-10.6},
 "encoding":{
  "x":{"field":"t","type":"quantitative","scale":{"domain":[41,53],"range":[0,948.6],"nice":false,"zero":false},"axis":null},
  "y":{"datum":0,"type":"quantitative","scale":{"domain":[0,6],"range":[644,0],"nice":false,"zero":false},"axis":null}}},
{"data":{"values":[{"label":"NoRP","t":41.43,"v":5.466}]},"mark":{"type":"text","align":"left","baseline":"alphabetic","fontSize":45.5,"font":"DejaVu Sans","color":"#000"},
 "encoding":{
  "x":{"field":"t","type":"quantitative","scale":{"domain":[41,53],"range":[0,948.6],"nice":false,"zero":false},"axis":null},
  "y":{"field":"v","type":"quantitative","scale":{"domain":[0,6],"range":[644,0],"nice":false,"zero":false},"axis":null},
  "text":{"field":"label"}}},
{"data":{"values":[{"label":"9.4 GHz","t":49.91,"v":3.137},{"label":"17 GHz","t":49.7,"v":2.19},{"label":"35 GHz","t":49.53,"v":1.553},{"label":"4 GHz","t":48.04,"v":1.143},{"label":"2 GHz","t":49.13,"v":0.398},{"label":"1 GHz","t":50.71,"v":0.186}]},"mark":{"type":"text","align":"left","baseline":"alphabetic","fontSize":29,"font":"DejaVu Sans","color":"#000"},
 "encoding":{
  "x":{"field":"t","type":"quantitative","scale":{"domain":[41,53],"range":[0,948.6],"nice":false,"zero":false},"axis":null},
  "y":{"field":"v","type":"quantitative","scale":{"domain":[0,6],"range":[644,0],"nice":false,"zero":false},"axis":null},
  "text":{"field":"label"}}},
{"data":{"name":"h12"},"mark":{"type":"line","color":"#c8cc00","strokeWidth":2,"interpolate":"step-after"},
 "encoding":{
  "x":{"field":"t","type":"quantitative","scale":{"domain":[41,53],"range":[0,948.6],"nice":false,"zero":false},
   "axis":{"orient":"bottom","offset":0,"values":[42,44,46,48,50,52],"labelExpr":"'23:'+datum.value","tickSize":-12,"labelPadding":34,"labelFontSize":36.5,"domain":true,
    "title":"15-Jun-2003","titleFontSize":38,"titleX":474.3,"titleY":93,"titleAlign":"center","titleBaseline":"alphabetic","titleAngle":0}},
  "y":{"field":"v","type":"quantitative","scale":{"domain":[0,9],"range":[1505,860],"nice":false,"zero":false},
   "axis":{"orient":"left","offset":0,"values":[0,2,4,6,8],"tickSize":-19,"labelPadding":29,"labelFontSize":36.5,"domain":true,
    "labelBaseline":{"condition":{"test":"datum.value==0","value":"alphabetic"},"value":"middle"},
    "title":"10³ counts s⁻¹","titleFontSize":36.5,"titleAngle":-90,"titleX":-67.5,"titleY":1182.5,"titleAlign":"center","titleBaseline":"alphabetic"}}}},
{"data":{"name":"h6"},"mark":{"type":"line","color":"#dc4416","strokeWidth":2,"interpolate":"step-after"},
 "encoding":{
  "x":{"field":"t","type":"quantitative","scale":{"domain":[41,53],"range":[0,948.6],"nice":false,"zero":false},
   "axis":{"orient":"bottom","offset":0,"values":[41,41.3333,41.6667,42,42.3333,42.6667,43,43.3333,43.6667,44,44.3333,44.6667,45,45.3333,45.6667,46,46.3333,46.6667,47,47.3333,47.6667,48,48.3333,48.6667,49,49.3333,49.6667,50,50.3333,50.6667,51,51.3333,51.6667,52,52.3333,52.6667,53],"labels":false,"domain":false,"tickSize":-6,"title":null}},
  "y":{"field":"v","type":"quantitative","scale":{"domain":[0,9],"range":[1505,860],"nice":false,"zero":false},
   "axis":{"orient":"left","offset":0,"values":[0,0.5,1,1.5,2,2.5,3,3.5,4,4.5,5,5.5,6,6.5,7,7.5,8,8.5,9],"labels":false,"domain":false,"tickSize":-9.5,"title":null}}}},
{"data":{"name":"h25"},"mark":{"type":"line","color":"#1ed23c","strokeWidth":2,"interpolate":"step-after"},
 "encoding":{
  "x":{"field":"t","type":"quantitative","scale":{"domain":[41,53],"range":[0,948.6],"nice":false,"zero":false},
   "axis":{"orient":"top","offset":-860,"values":[42,44,46,48,50,52],"labels":false,"domain":true,"tickSize":-12,"title":null}},
  "y":{"field":"v","type":"quantitative","scale":{"domain":[0,9],"range":[1505,860],"nice":false,"zero":false},
   "axis":{"orient":"right","offset":4.1,"values":[0,2,4,6,8],"labels":false,"domain":true,"tickSize":-19,"title":null}}}},
{"data":{"name":"h50"},"mark":{"type":"line","color":"#1aa9d2","strokeWidth":2,"interpolate":"step-after"},
 "encoding":{
  "x":{"field":"t","type":"quantitative","scale":{"domain":[41,53],"range":[0,948.6],"nice":false,"zero":false},
   "axis":{"orient":"top","offset":-860,"values":[41,41.3333,41.6667,42,42.3333,42.6667,43,43.3333,43.6667,44,44.3333,44.6667,45,45.3333,45.6667,46,46.3333,46.6667,47,47.3333,47.6667,48,48.3333,48.6667,49,49.3333,49.6667,50,50.3333,50.6667,51,51.3333,51.6667,52,52.3333,52.6667,53],"labels":false,"domain":false,"tickSize":-6,"title":null}},
  "y":{"field":"v","type":"quantitative","scale":{"domain":[0,9],"range":[1505,860],"nice":false,"zero":false},
   "axis":{"orient":"right","offset":4.1,"values":[0,0.5,1,1.5,2,2.5,3,3.5,4,4.5,5,5.5,6,6.5,7,7.5,8,8.5,9],"labels":false,"domain":false,"tickSize":-9.5,"title":null}}}},
{"data":{"name":"h100"},"mark":{"type":"line","color":"#1414c8","strokeWidth":2,"interpolate":"step-after"},
 "encoding":{
  "x":{"field":"t","type":"quantitative","scale":{"domain":[41,53],"range":[0,948.6],"nice":false,"zero":false},"axis":null},
  "y":{"field":"v","type":"quantitative","scale":{"domain":[0,9],"range":[1505,860],"nice":false,"zero":false},"axis":null}}},
{"data":{"values":[{"t":44.22},{"t":46.62}]},"mark":{"type":"rule","color":"#000","strokeWidth":1.5,"strokeDash":[1.5,3.5]},
 "encoding":{
  "x":{"field":"t","type":"quantitative","scale":{"domain":[41,53],"range":[0,948.6],"nice":false,"zero":false},"axis":null},
  "y":{"datum":0,"type":"quantitative","scale":{"domain":[0,9],"range":[1505,860],"nice":false,"zero":false},"axis":null},
  "y2":{"datum":9}}},
{"data":{"values":[{"t":43.04},{"t":45.405}]},"mark":{"type":"point","shape":"triangle-down","size":600,"filled":true,"color":"#000","opacity":1,"yOffset":-10.6},
 "encoding":{
  "x":{"field":"t","type":"quantitative","scale":{"domain":[41,53],"range":[0,948.6],"nice":false,"zero":false},"axis":null},
  "y":{"datum":0,"type":"quantitative","scale":{"domain":[0,9],"range":[1505,860],"nice":false,"zero":false},"axis":null}}},
{"data":{"values":[{"t":46.32}]},"mark":{"type":"point","shape":"triangle-down","size":600,"filled":false,"fill":"#fff","fillOpacity":1,"stroke":"#000","strokeWidth":1.3,"opacity":1,"yOffset":-10.6},
 "encoding":{
  "x":{"field":"t","type":"quantitative","scale":{"domain":[41,53],"range":[0,948.6],"nice":false,"zero":false},"axis":null},
  "y":{"datum":0,"type":"quantitative","scale":{"domain":[0,9],"range":[1505,860],"nice":false,"zero":false},"axis":null}}},
{"data":{"values":[{"label":"RHESSI","t":41.43,"v":8.2}]},"mark":{"type":"text","align":"left","baseline":"alphabetic","fontSize":46,"font":"DejaVu Sans","color":"#000"},
 "encoding":{
  "x":{"field":"t","type":"quantitative","scale":{"domain":[41,53],"range":[0,948.6],"nice":false,"zero":false},"axis":null},
  "y":{"field":"v","type":"quantitative","scale":{"domain":[0,9],"range":[1505,860],"nice":false,"zero":false},"axis":null},
  "text":{"field":"label"}}},
{"data":{"values":[{"label":"25-50 keV","t":43.8,"v":6.99},{"label":"50-100 keV","t":43.8,"v":3.29},{"label":"100-300 keV","t":43.8,"v":1.363}]},"mark":{"type":"text","align":"right","baseline":"alphabetic","fontSize":28,"font":"DejaVu Sans","color":"#000"},
 "encoding":{
  "x":{"field":"t","type":"quantitative","scale":{"domain":[41,53],"range":[0,948.6],"nice":false,"zero":false},"axis":null},
  "y":{"field":"v","type":"quantitative","scale":{"domain":[0,9],"range":[1505,860],"nice":false,"zero":false},"axis":null},
  "text":{"field":"label"}}},
{"data":{"values":[{"label":"12-25 keV","t":47.7,"v":5.8},{"label":"6-12 keV","t":48.74,"v":2.466}]},"mark":{"type":"text","align":"left","baseline":"alphabetic","fontSize":28,"font":"DejaVu Sans","color":"#000"},
 "encoding":{
  "x":{"field":"t","type":"quantitative","scale":{"domain":[41,53],"range":[0,948.6],"nice":false,"zero":false},"axis":null},
  "y":{"field":"v","type":"quantitative","scale":{"domain":[0,9],"range":[1505,860],"nice":false,"zero":false},"axis":null},
  "text":{"field":"label"}}},
{"data":{"name":"mod"},"mark":{"type":"line","color":"#000","strokeWidth":1},
 "encoding":{
  "x":{"field":"t","type":"quantitative","scale":{"domain":[40,47],"range":[518.8,922.2],"nice":false,"zero":false},
   "axis":{"orient":"bottom","offset":-1353.7,"values":[40,42,44,46],"labelExpr":"'23:'+datum.value","tickSize":-8,"labelPadding":22,"labelFontSize":20.5,"domain":true,"title":null}},
  "y":{"field":"v","type":"quantitative","scale":{"domain":[-0.5,0.5],"range":[151.3,22.3],"nice":false,"zero":false},
   "axis":{"orient":"left","offset":-518.8,"values":[-0.4,-0.2,0,0.2,0.4],"labelExpr":"datum.value < 0 ? '-' + format(-datum.value,'.1f') : format(datum.value,'.1f')","tickSize":-8,"labelPadding":12,"labelFontSize":20.5,"labelBaseline":"middle","domain":true,
    "title":"Mod. Ampl.","titleFontSize":21,"titleAngle":-90,"titleX":-68.3,"titleY":86.8,"titleAlign":"center","titleBaseline":"alphabetic"}}}},
{"data":{"values":[{"t":40,"v":0}]},"mark":{"type":"point","opacity":0},
 "encoding":{
  "x":{"field":"t","type":"quantitative","scale":{"domain":[40,47],"range":[518.8,922.2],"nice":false,"zero":false},
   "axis":{"orient":"bottom","offset":-1353.7,"values":[40,40.3333,40.6667,41,41.3333,41.6667,42,42.3333,42.6667,43,43.3333,43.6667,44,44.3333,44.6667,45,45.3333,45.6667,46,46.3333,46.6667,47],"labels":false,"domain":false,"tickSize":-4,"title":null}},
  "y":{"field":"v","type":"quantitative","scale":{"domain":[-0.5,0.5],"range":[151.3,22.3],"nice":false,"zero":false},
   "axis":{"orient":"left","offset":-518.8,"values":[-0.5,-0.4,-0.3,-0.2,-0.1,0,0.1,0.2,0.3,0.4,0.5],"labels":false,"domain":false,"tickSize":-4,"title":null}}}},
{"data":{"values":[{"t":40,"v":0}]},"mark":{"type":"point","opacity":0},
 "encoding":{
  "x":{"field":"t","type":"quantitative","scale":{"domain":[40,47],"range":[518.8,922.2],"nice":false,"zero":false},
   "axis":{"orient":"top","offset":-22.3,"values":[40,42,44,46],"labels":false,"domain":true,"tickSize":-8,"title":null}},
  "y":{"field":"v","type":"quantitative","scale":{"domain":[-0.5,0.5],"range":[151.3,22.3],"nice":false,"zero":false},
   "axis":{"orient":"right","offset":-22.3,"values":[-0.4,-0.2,0,0.2,0.4],"labels":false,"domain":true,"tickSize":-8,"title":null}}}},
{"data":{"values":[{"t":40,"v":0}]},"mark":{"type":"point","opacity":0},
 "encoding":{
  "x":{"field":"t","type":"quantitative","scale":{"domain":[40,47],"range":[518.8,922.2],"nice":false,"zero":false},
   "axis":{"orient":"top","offset":-22.3,"values":[40,40.3333,40.6667,41,41.3333,41.6667,42,42.3333,42.6667,43,43.3333,43.6667,44,44.3333,44.6667,45,45.3333,45.6667,46,46.3333,46.6667,47],"labels":false,"domain":false,"tickSize":-4,"title":null}},
  "y":{"field":"v","type":"quantitative","scale":{"domain":[-0.5,0.5],"range":[151.3,22.3],"nice":false,"zero":false},
   "axis":{"orient":"right","offset":-22.3,"values":[-0.5,-0.4,-0.3,-0.2,-0.1,0,0.1,0.2,0.3,0.4,0.5],"labels":false,"domain":false,"tickSize":-4,"title":null}}}}
]
}
